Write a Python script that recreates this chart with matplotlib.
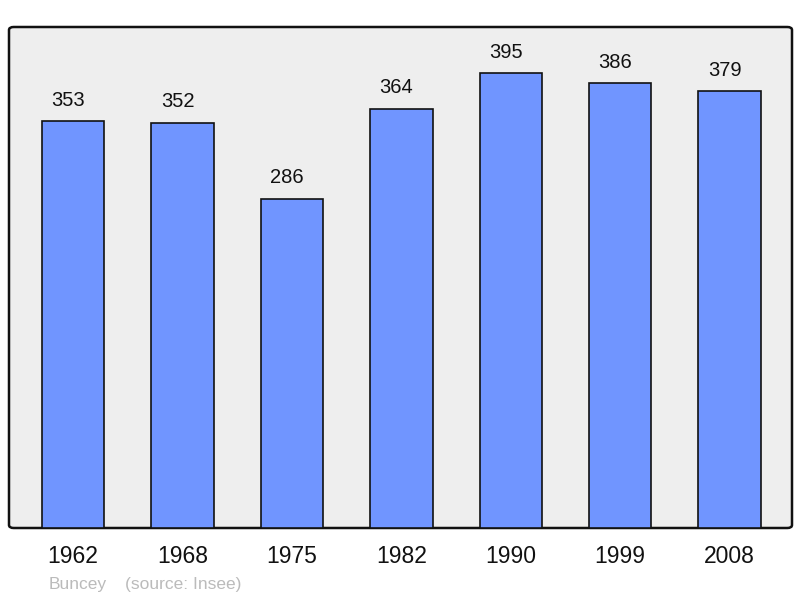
import matplotlib.pyplot as plt
from matplotlib.patches import FancyBboxPatch

years = ['1962', '1968', '1975', '1982', '1990', '1999', '2008']
population = [353, 352, 286, 364, 395, 386, 379]
town = 'Buncey'
source = '(source: Insee)'

plt.rcParams['font.family'] = ['Liberation Sans', 'DejaVu Sans']

fig = plt.figure(figsize=(8, 5.98), dpi=100)
ax = fig.add_axes([9 / 800, 70 / 598, 783 / 800, 501 / 598])
ax.set_facecolor('none')

bg = FancyBboxPatch((0, 0), 1, 1, boxstyle='round,pad=0,rounding_size=0.006',
                    transform=ax.transAxes, facecolor='#eeeeee',
                    edgecolor='#111111', linewidth=1.8, zorder=0, clip_on=False)
ax.add_patch(bg)

x = range(len(years))
bars = ax.bar(x, population, width=0.57, color='#7095ff',
              edgecolor='#111111', linewidth=1.2, zorder=2)
for xi, v in zip(x, population):
    ax.annotate(str(v), (xi, v), xytext=(-3.5, 11), textcoords='offset points',
                ha='center', va='baseline', fontsize=14.5, color='#111111')

ax.set_xlim(-0.585, 6.57)
ax.set_ylim(0, 435)
ax.set_xticks(list(x))
ax.set_xticklabels(years, fontsize=16.5, color='#111111')
ax.tick_params(axis='x', length=0, pad=12)
ax.set_yticks([])
for s in ax.spines.values():
    s.set_visible(False)

fig.text(49 / 800, 1 - 584 / 598, town, fontsize=12.5, color='#bbbbbb', va='center')
fig.text(125 / 800, 1 - 584 / 598, source, fontsize=12.5, color='#bbbbbb', va='center')

fig.savefig('out.png', dpi=100)
